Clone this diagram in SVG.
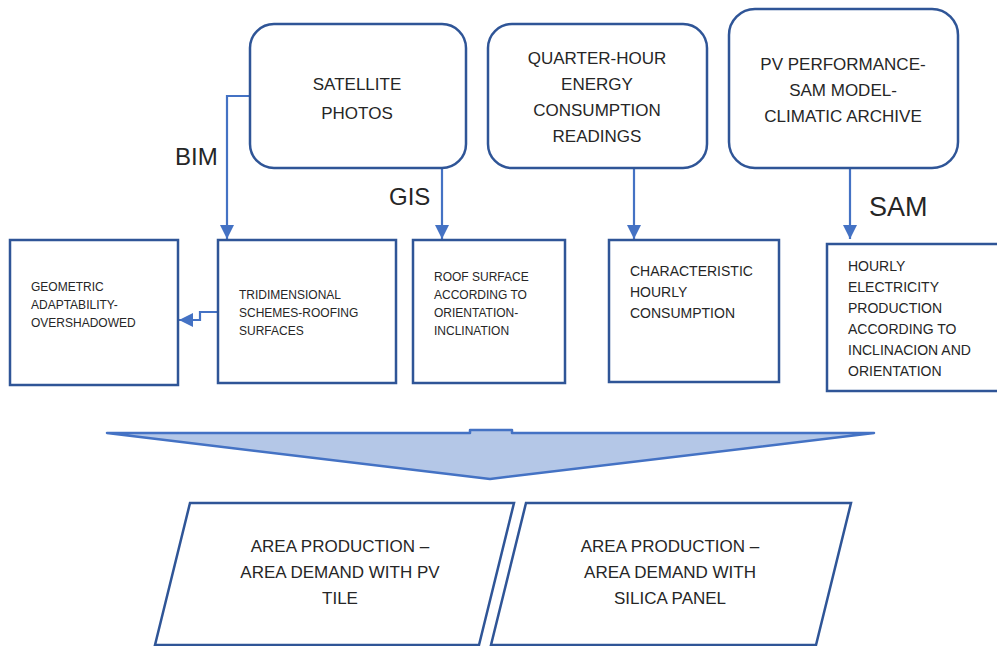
<svg xmlns="http://www.w3.org/2000/svg" width="997" height="646" viewBox="0 0 997 646">
<defs>
<marker id="ah" markerWidth="16" markerHeight="16" refX="14" refY="7" orient="auto" markerUnits="userSpaceOnUse">
<path d="M0,0 L14,7 L0,14 Z" fill="#4472C4"/>
</marker>
<style>
.box{fill:#fff;stroke:#2F5597;stroke-width:2.5}
.conn{fill:none;stroke:#4472C4;stroke-width:2.2}
text{font-family:"Liberation Sans",Arial,sans-serif;fill:#262626}
.t17{font-size:17px;text-anchor:middle}
.t12{font-size:12px}
.t14{font-size:14px}
.lab{font-size:24px}
</style>
</defs>
<rect width="997" height="646" fill="#fff"/>

<g id="connectors">
<path class="conn" d="M250,96 H227 V239" marker-end="url(#ah)"/>
<path class="conn" d="M442,168 V239" marker-end="url(#ah)"/>
<path class="conn" d="M634,168 V239" marker-end="url(#ah)"/>
<path class="conn" d="M850,168 V239" marker-end="url(#ah)"/>
<path class="conn" d="M218,312 H200 V320 H179" marker-end="url(#ah)"/>
<text class="lab" x="175" y="165">BIM</text>
<text class="lab" x="389" y="205">GIS</text>
<text class="lab" x="869" y="216" style="font-size:27px">SAM</text>
</g>

<g id="satellite">
<rect class="box" x="250" y="24" width="216" height="144" rx="24"/>
<text class="t17" x="357" y="90">SATELLITE</text>
<text class="t17" x="357" y="119">PHOTOS</text>
</g>

<g id="quarter">
<rect class="box" x="488" y="24" width="219" height="144" rx="24"/>
<text class="t17" x="597" y="64">QUARTER-HOUR</text>
<text class="t17" x="597" y="90">ENERGY</text>
<text class="t17" x="597" y="116">CONSUMPTION</text>
<text class="t17" x="597" y="142">READINGS</text>
</g>

<g id="pvperf">
<rect class="box" x="729" y="9" width="229" height="159" rx="26"/>
<text class="t17" x="843" y="70">PV PERFORMANCE-</text>
<text class="t17" x="843" y="96">SAM MODEL-</text>
<text class="t17" x="843" y="122">CLIMATIC ARCHIVE</text>
</g>

<g id="geometric">
<rect class="box" x="10" y="240" width="168" height="145"/>
<text class="t12" x="31" y="291">GEOMETRIC</text>
<text class="t12" x="31" y="309">ADAPTABILITY-</text>
<text class="t12" x="31" y="327">OVERSHADOWED</text>
</g>

<g id="tridimensional">
<rect class="box" x="218" y="240" width="178" height="143"/>
<text class="t12" x="239" y="299">TRIDIMENSIONAL</text>
<text class="t12" x="239" y="317">SCHEMES-ROOFING</text>
<text class="t12" x="239" y="335">SURFACES</text>
</g>

<g id="roof">
<rect class="box" x="413" y="240" width="152" height="143"/>
<text class="t12" x="434" y="281">ROOF SURFACE</text>
<text class="t12" x="434" y="299">ACCORDING TO</text>
<text class="t12" x="434" y="317">ORIENTATION-</text>
<text class="t12" x="434" y="335">INCLINATION</text>
</g>

<g id="characteristic">
<rect class="box" x="609" y="240" width="170" height="142"/>
<text class="t14" x="630" y="276">CHARACTERISTIC</text>
<text class="t14" x="630" y="297">HOURLY</text>
<text class="t14" x="630" y="318">CONSUMPTION</text>
</g>

<g id="hourly">
<rect class="box" x="827" y="244" width="185" height="147"/>
<text class="t14" x="848" y="271">HOURLY</text>
<text class="t14" x="848" y="292">ELECTRICITY</text>
<text class="t14" x="848" y="313">PRODUCTION</text>
<text class="t14" x="848" y="334">ACCORDING TO</text>
<text class="t14" x="848" y="355">INCLINACION AND</text>
<text class="t14" x="848" y="376">ORIENTATION</text>
</g>

<g id="bigarrow">
<polygon points="107,433 470,433 470,430 512,430 512,433 874,433 490,479" fill="#B4C7E7" stroke="#4472C4" stroke-width="2.5" stroke-linejoin="round"/>
</g>

<g id="pvtile">
<polygon class="box" points="190,503 514,503 479,645 155,645"/>
<text class="t17" x="340" y="552">AREA PRODUCTION –</text>
<text class="t17" x="340" y="578">AREA DEMAND WITH PV</text>
<text class="t17" x="340" y="604">TILE</text>
</g>

<g id="silica">
<polygon class="box" points="526,503 851,503 816,645 491,645"/>
<text class="t17" x="670" y="552">AREA PRODUCTION –</text>
<text class="t17" x="670" y="578">AREA DEMAND WITH</text>
<text class="t17" x="670" y="604">SILICA PANEL</text>
</g>
</svg>
